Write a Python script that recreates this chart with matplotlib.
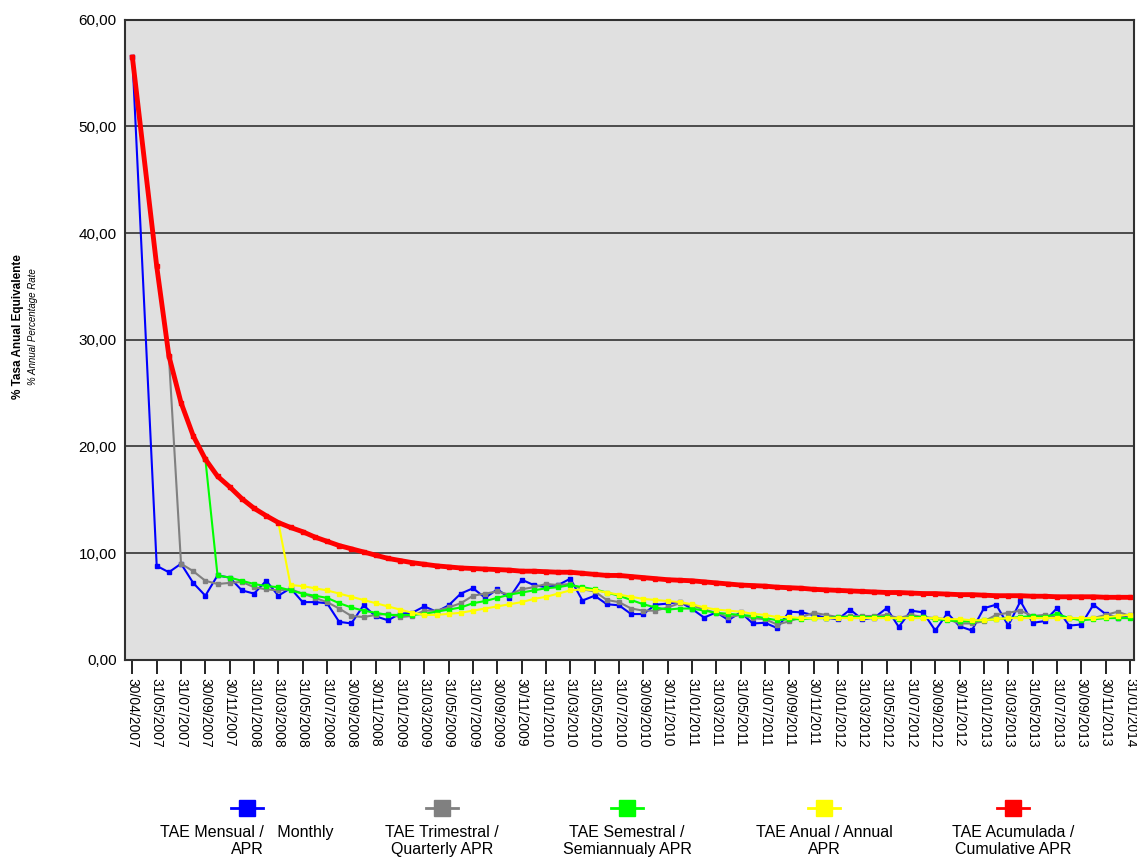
import matplotlib
matplotlib.use("Agg")
import matplotlib.pyplot as plt
from matplotlib.lines import Line2D
from matplotlib.ticker import FuncFormatter
import pandas as pd

plt.rcParams['font.family'] = ['Liberation Sans Narrow', 'Liberation Sans', 'DejaVu Sans']

# month index: -2 = 30/04/2007, 0 = 31/05/2007 ... 80 = 31/01/2014
first_pos = -2
first_label = "30/04/2007"
first_value_monthly = 56.5
first_value_cum = 56.5

monthly = [8.8, 8.2, 9.0, 7.2, 6.0, 7.9, 7.7, 6.5, 6.2, 7.4,
           6.0, 6.7, 5.4, 5.4, 5.3, 3.55, 3.4, 5.1, 4.07, 3.7,
           4.3, 4.4, 5.0, 4.5, 5.1, 6.2, 6.7, 5.8, 6.6, 5.8,
           7.5, 7.0, 6.8, 7.0, 7.6, 5.55, 6.0, 5.2, 5.1, 4.28,
           4.28, 5.16, 5.26, 5.42, 4.76, 3.95, 4.44, 3.72, 4.44, 3.4,
           3.46, 2.97, 4.5, 4.44, 4.18, 3.95, 3.78, 4.7, 3.78, 3.95,
           4.83, 3.07, 4.6, 4.44, 2.74, 4.37, 3.13, 2.74, 4.83, 5.16,
           3.2, 5.49, 3.46, 3.62, 4.83, 3.2, 3.3, 5.16, 4.28, 3.95, 4.18]

quarterly_start = 1
quarterly = [28.5, 9.0, 8.3, 7.4, 7.1, 7.2, 7.3, 6.8, 6.6, 6.5,
             6.6, 6.2, 5.8, 5.4, 4.8, 4.1, 4.0, 4.2, 4.3, 4.0,
             4.1, 4.6, 4.6, 4.9, 5.3, 6.0, 6.2, 6.4, 6.1, 6.6,
             6.8, 7.1, 7.0, 7.1, 6.6, 6.4, 5.6, 5.4, 4.8, 4.6,
             4.6, 4.9, 5.3, 5.1, 4.7, 4.4, 4.0, 4.2, 3.9, 3.8,
             3.3, 3.6, 4.0, 4.4, 4.2, 4.0, 4.1, 4.1, 4.1, 4.2,
             3.9, 4.2, 4.0, 3.9, 3.8, 3.4, 3.4, 3.6, 4.2, 4.4,
             4.6, 4.1, 4.2, 4.0, 3.9, 3.8, 3.9, 4.2, 4.5, 4.1]

semiannual_start = 4
semiannual = [18.8, 7.9, 7.7, 7.4, 7.1, 6.9, 6.8, 6.5, 6.2, 6.0,
              5.8, 5.3, 4.9, 4.6, 4.4, 4.2, 4.2, 4.2, 4.3, 4.5,
              4.7, 4.9, 5.3, 5.5, 5.8, 6.1, 6.3, 6.5, 6.7, 6.8,
              7.0, 6.8, 6.6, 6.3, 6.0, 5.6, 5.2, 4.9, 4.7, 4.8,
              4.8, 4.6, 4.4, 4.3, 4.2, 4.1, 3.9, 3.7, 3.8, 3.8,
              3.9, 3.9, 4.0, 4.0, 4.0, 4.0, 4.0, 3.8, 4.0, 4.0,
              3.8, 3.7, 3.6, 3.6, 3.7, 3.8, 3.9, 4.0, 4.1, 4.0,
              4.3, 3.9, 3.7, 3.8, 3.9, 3.9, 3.9]

annual_start = 10
annual = [12.86, 7.0, 6.9, 6.7, 6.5, 6.2, 5.9, 5.6, 5.3, 5.0,
          4.7, 4.4, 4.2, 4.2, 4.3, 4.4, 4.6, 4.8, 5.0, 5.2,
          5.4, 5.7, 5.9, 6.2, 6.5, 6.6, 6.5, 6.3, 6.1, 5.9,
          5.7, 5.6, 5.5, 5.4, 5.2, 4.9, 4.7, 4.6, 4.5, 4.3,
          4.2, 4.0, 4.0, 3.9, 3.9, 3.9, 3.9, 3.9, 3.9, 3.9,
          3.9, 3.9, 3.9, 3.9, 3.9, 3.8, 3.8, 3.7, 3.7, 3.8,
          3.9, 3.9, 3.9, 3.9, 3.9, 3.9, 3.9, 3.9, 4.0, 4.1, 4.2]

cumulative = [36.9, 28.5, 24.1, 21.0, 18.8, 17.2, 16.2, 15.1, 14.2, 13.5,
              12.86, 12.4, 12.0, 11.5, 11.1, 10.7, 10.4, 10.1, 9.8, 9.5,
              9.3, 9.1, 8.95, 8.8, 8.7, 8.6, 8.55, 8.5, 8.45, 8.4,
              8.3, 8.3, 8.25, 8.2, 8.2, 8.1, 8.0, 7.9, 7.9, 7.8,
              7.7, 7.6, 7.5, 7.45, 7.4, 7.3, 7.2, 7.1, 7.0, 6.95,
              6.9, 6.8, 6.75, 6.7, 6.6, 6.55, 6.5, 6.45, 6.4, 6.35,
              6.3, 6.3, 6.25, 6.2, 6.2, 6.15, 6.1, 6.1, 6.05, 6.0,
              6.0, 6.0, 5.95, 5.95, 5.9, 5.9, 5.9, 5.9, 5.85, 5.85, 5.85]

month_ends = pd.date_range("2007-05-31", periods=81, freq="ME")

fig = plt.figure(figsize=(11.37, 8.59), dpi=100)
ax = fig.add_axes([0.110, 0.232, 0.887, 0.745])
ax.set_facecolor("#e0e0e0")

def xs(start, n):
    return list(range(start, start + n))

mx = [first_pos] + xs(0, len(monthly))
ax.plot(mx, [first_value_monthly] + monthly, color="#0000ff", lw=1.5,
        marker="s", ms=3.2, zorder=3)
ax.plot(xs(quarterly_start, len(quarterly)), quarterly, color="#808080", lw=1.5,
        marker="s", ms=3.2, zorder=4)
ax.plot(xs(semiannual_start, len(semiannual)), semiannual, color="#00ff00", lw=1.5,
        marker="s", ms=3.2, zorder=5)
ax.plot(xs(annual_start, len(annual)), annual, color="#ffff00", lw=1.5,
        marker="s", ms=3.2, zorder=6)
ax.plot([first_pos] + xs(0, len(cumulative)), [first_value_cum] + cumulative,
        color="#ff0000", lw=3.5, marker="s", ms=2.5, zorder=7)

ax.set_ylim(0, 60)
ax.set_yticks(range(0, 61, 10))
ax.yaxis.set_major_formatter(FuncFormatter(lambda v, p: f"{v:.2f}".replace(".", ",")))
ax.grid(axis="y", color="#404040", lw=1.3)
ax.set_axisbelow(True)
ax.set_xlim(-2.6, 80.3)

tick_pos = [first_pos] + list(range(0, 81, 2))
tick_lab = [first_label] + [d.strftime("%d/%m/%Y") for d in month_ends[::2]]
ax.set_xticks(tick_pos)
ax.set_xticklabels(tick_lab, rotation=-90, fontsize=10)
ax.tick_params(axis="x", direction="out", length=10, width=1.2)
ax.tick_params(axis="y", length=0, labelsize=11, pad=6)
for s in ax.spines.values():
    s.set_color("#303030")
    s.set_linewidth(1.5)

fig.text(0.016, 0.62, "% Tasa Anual Equivalente", rotation=90, fontsize=8.5,
         fontweight="bold", ha="center", va="center")
fig.text(0.029, 0.62, "% Annual Percentage Rate", rotation=90, fontsize=7,
         fontstyle="italic", ha="center", va="center")

legend_items = [
    (247, "#0000ff", "TAE Mensual /   Monthly\nAPR"),
    (442, "#808080", "TAE Trimestral /\nQuarterly APR"),
    (627, "#00ff00", "TAE Semestral /\nSemiannualy APR"),
    (824, "#ffff00", "TAE Anual / Annual\nAPR"),
    (1013, "#ff0000", "TAE Acumulada /\nCumulative APR"),
]
for px, col, lab in legend_items:
    xc = px / 1137
    yc = 1 - 808 / 859
    fig.add_artist(Line2D([xc - 0.014, xc + 0.014], [yc, yc], color=col, lw=2,
                          transform=fig.transFigure))
    fig.add_artist(Line2D([xc], [yc], color=col, marker="s", ms=11,
                          transform=fig.transFigure))
    fig.text(xc, 1 - 825 / 859, lab, ha="center", va="top", fontsize=11.5,
             linespacing=1.15)

fig.savefig("out.png", dpi=100)
